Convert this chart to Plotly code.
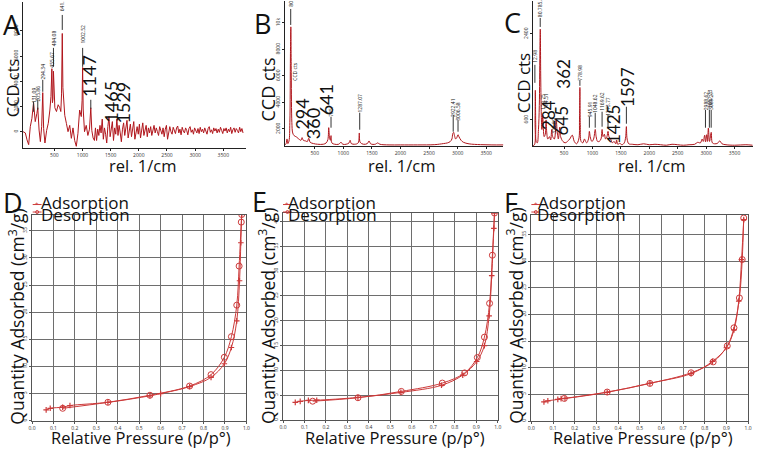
import plotly.graph_objects as go

W, H = 758, 450

# ---------------- DATA ----------------
# Panel A Raman spectrum (rel. 1/cm, CCD cts)
A_wn = [-55, -15, 15, 44, 73, 102, 131, 161, 190, 206, 229, 252, 275, 294, 310, 333, 363, 392, 421, 440,
        456, 466, 475, 484, 500, 509, 538, 568, 597, 615, 628, 641, 652, 661, 685, 714, 743, 773, 802, 831,
        861, 890, 919, 949, 978, 993, 1002, 1012, 1036, 1066, 1095, 1124, 1147, 1165, 1188, 1212, 1230,
        1250, 1270, 1290, 1310, 1330, 1350, 1370, 1390, 1410, 1430, 1450, 1470, 1490, 1510, 1530, 1550,
        1570, 1590, 1610, 1630, 1650, 1670, 1690, 1710, 1730, 1750, 1770, 1790, 1810, 1830, 1850, 1870,
        1890, 1910, 1930, 1950, 1970, 1990, 2010, 2030, 2050, 2070, 2090, 2110, 2130, 2150, 2170, 2190,
        2210, 2230, 2250, 2270, 2290, 2310, 2330, 2350, 2370, 2390, 2410, 2430, 2450, 2470, 2490, 2510,
        2530, 2550, 2570, 2590, 2610, 2630, 2650, 2670, 2690, 2710, 2730, 2750, 2770, 2790, 2810, 2830,
        2850, 2870, 2890, 2910, 2930, 2950, 2970, 2990, 3010, 3030, 3050, 3070, 3090, 3110, 3130, 3150,
        3170, 3190, 3210, 3230, 3250, 3270, 3290, 3310, 3330, 3350, 3370, 3390, 3410, 3430, 3450, 3470,
        3490, 3510, 3530, 3550, 3570, 3590, 3610, 3630, 3650, 3670, 3690, 3710, 3730, 3750, 3770, 3790,
        3810, 3830, 3850]
A_cts = [0, -100, -650, -1030, 400, 1060, 2300, 800, 1450, 1900, 130, -790, 400, 3100, 250, -900, 100, 660, 1720, 2800,
         5000, 2300, 2600, 4800, 2600, 1900, 1600, 2140, 1900, 1600, 3000, 7800, 3500, 2500, 1300, 660, 0, 500, -530, 300,
         -700, -1160, -130, 1720, 1200, 2500, 5100, 1800, 0, 500, -300, 200, 1900, 100, -500, -700, 300,
         -700, 200, -300, 500, -100, 1000, -600, 300, -200, -900, 400, 1200, -400, 100, 800, -700,
         300, -200, 1000, -300, 500, -100, -800, 200, 700, -300, 400, 900, -500, 100, 600, -400,
         200, 800, -600, 100, 400, -200, 600, -500, 300, 700, -300, 200, 500, -400, 300, -100,
         400, -300, 200, 500, -100, 300, 0, -300, 400, 100, -200, 300, -400, 200, 500, -600,
         100, 400, 0, -200, 350, 100, -150, 300, 450, -100, 200, -250, 350, 50, -100, 300,
         100, -250, 250, 400, -50, 150, -200, 300, 100, -100, 250, -150, 350, 0, 200, -100,
         300, 50, -200, 250, 400, -50, 150, -150, 300, 50, 250, -100, 200, -50, 350, 100,
         -150, 250, 50, 300, -100, 200, 0, 350, -150, 150, 300, -50, 250, 100, -100, 350,
         0, 250, -100]

# Panel B Raman spectrum
B_wn = [-20, 0, 15, 30, 50, 65, 75, 82, 90, 100, 115, 140, 180, 220, 260, 279, 300, 340, 370, 395, 420, 480,
        550, 650, 700, 730, 745, 760, 775, 785, 800, 850, 920, 960, 990, 1050, 1100, 1120, 1140, 1200, 1260,
        1280, 1295, 1350, 1420, 1450, 1480, 1560, 1600, 1640, 1800, 2000, 2300, 2600, 2750, 2820, 2870, 2900,
        2915, 2930, 2945, 2965, 2985, 3006, 3025, 3060, 3100, 3200, 3400, 3600, 3800]
B_cts = [800, 900, 1250, 900, 1100, 2500, 7500, 9700, 6000, 2500, 1700, 1500, 1400, 1250, 1150, 1350, 1150, 1100, 1050, 1300, 1000, 900,
         850, 850, 950, 1200, 2100, 1300, 1150, 1500, 950, 850, 850, 1000, 850, 850, 950, 1150, 900, 850, 950,
         1700, 1000, 850, 900, 1100, 880, 850, 950, 850, 800, 800, 800, 820, 900, 950, 1050, 1250,
         1650, 1750, 1500, 1250, 1350, 1570, 1400, 1150, 1000, 880, 820, 800, 800]

# Panel C Raman spectrum
C_wn = [-50, -20, -10, -5, 2, 10, 30, 50, 65, 75, 82, 90, 100, 110, 125, 135, 150, 170, 184, 195, 215, 245, 265,
        284, 300, 330, 362, 380, 400, 425, 440, 480, 520, 560, 600, 645, 680, 720, 760, 772, 779, 786, 800, 830,
        860, 880, 900, 930, 946, 960, 990, 1020, 1049, 1065, 1090, 1120, 1150, 1170, 1185, 1210, 1230, 1255,
        1274, 1290, 1320, 1350, 1380, 1410, 1425, 1445, 1480, 1520, 1560, 1585, 1597, 1610, 1640, 1700, 1800,
        1900, 2000, 2100, 2200, 2300, 2400, 2500, 2600, 2700, 2800, 2850, 2900, 2930, 2950, 2975, 2990, 3010,
        3025, 3040, 3060, 3090, 3110, 3150, 3200, 3240, 3280, 3350, 3500, 3700, 3820]
C_cts = [60, 80, 600, 1220, 500, 150, 120, 400, 900, 2000, 2500, 1500, 700, 400, 700, 450, 250, 300, 600, 350, 200, 250, 180,
         400, 250, 200, 600, 350, 200, 450, 250, 150, 120, 150, 200, 280, 150, 100, 200, 600, 1280, 500, 150, 120,
         200, 150, 120, 200, 360, 250, 150, 200, 400, 250, 150, 150, 200, 400, 250, 300, 200, 250,
         360, 250, 200, 120, 150, 100, 180, 90, 110, 80, 120, 250, 460, 200, 100, 90, 80,
         100, 80, 90, 80, 70, 90, 80, 70, 80, 90, 130, 120, 200, 150, 280, 140, 290,
         150, 430, 150, 340, 120, 100, 110, 160, 100, 80, 70, 80, 70]

# Peak labels
A_small_txt = ["131.09", "205.86", "294.34", "455.67", "484.08", "641.", "1002.52"]
A_small_wn = [131.09, 205.86, 294.34, 455.67, 484.08, 641.0, 1002.52]
A_big_txt = ["1147", "1465", "1529"]
B_small_txt = ["80", "785.", "1287.07", "2922.41", "3006.58"]
B_small_wn = [80, 785, 1287.07, 2922.41, 3006.58]
B_big_txt = ["294", "360", "641"]
C_small_txt = ["80.785,", "12.98", "129.75", "184.51", "325.89", "778.98", "945.91", "1048.62",
               "1169.62", "1273.77", "2988.62", "3057.23", "3089.27"]
C_small_wn = [80.78, -12.98, 129.75, 184.51, 325.89, 778.98, 945.91, 1048.62, 1169.62, 1273.77,
              2988.62, 3057.23, 3089.27]
C_big_txt = ["284", "362", "645", "1425", "1597"]

# BET isotherms (p/p0, cm3/g)
D_ads_x = [0.066, 0.085, 0.143, 0.177, 0.354, 0.55, 0.60, 0.735, 0.835, 0.897, 0.93, 0.955, 0.968, 0.974, 0.978]
D_ads_y = [2.0, 2.3, 2.5, 2.8, 3.4, 4.6, 5.0, 6.3, 8.0, 10.5, 13.5, 18.4, 25.8, 32.8, 38.0]
D_des_x = [0.978, 0.976, 0.966, 0.955, 0.93, 0.897, 0.835, 0.735, 0.55, 0.354, 0.143]
D_des_y = [38.0, 36.6, 28.5, 21.3, 15.5, 11.7, 8.5, 6.4, 4.7, 3.4, 2.3]
E_ads_x = [0.057, 0.08, 0.118, 0.157, 0.349, 0.549, 0.738, 0.837, 0.902, 0.938, 0.96, 0.972, 0.982, 0.985]
E_ads_y = [3.56, 3.76, 3.96, 4.0, 4.56, 5.57, 7.0, 9.06, 11.8, 15.0, 21.0, 29.1, 38.6, 41.7]
E_des_x = [0.985, 0.975, 0.962, 0.938, 0.905, 0.846, 0.742, 0.551, 0.349, 0.138]
E_des_y = [41.7, 33.2, 23.5, 16.7, 12.6, 9.5, 7.45, 5.77, 4.5, 3.8]
F_ads_x = [0.058, 0.076, 0.122, 0.137, 0.155, 0.35, 0.547, 0.737, 0.836, 0.9, 0.935, 0.957, 0.97, 0.98]
F_ads_y = [3.6, 3.8, 4.06, 4.2, 4.25, 5.4, 7.1, 8.9, 11.2, 13.75, 17.1, 22.5, 30.3, 37.8]
F_des_x = [0.98, 0.973, 0.96, 0.935, 0.904, 0.839, 0.737, 0.547, 0.35, 0.152]
F_des_y = [38.1, 30.3, 23.1, 17.5, 14.1, 11.1, 9.06, 7.06, 5.44, 4.25]

bet_xticks = [0.0, 0.1, 0.2, 0.3, 0.4, 0.5, 0.6, 0.7, 0.8, 0.9, 1.0]
top_xt = [500, 1000, 1500, 2000, 2500, 3000, 3500]

# ---------------- LAYOUT HELPERS ----------------
def px(x):
    return x / W

def py(y):
    return 1 - y / H

SPEC = "#b0161c"
BET = "#cc3a3a"
FONT = "Open Sans"
NUMF = "Lato"

fig = go.Figure()

fig.add_trace(go.Scatter(x=A_wn, y=A_cts, mode="lines", line=dict(color=SPEC, width=1), xaxis="x", yaxis="y"))
fig.add_trace(go.Scatter(x=B_wn, y=B_cts, mode="lines", line=dict(color=SPEC, width=1, shape="spline"), xaxis="x2", yaxis="y2"))
fig.add_trace(go.Scatter(x=C_wn, y=C_cts, mode="lines", line=dict(color=SPEC, width=1, shape="spline"), xaxis="x3", yaxis="y3"))

for i, (ax, ay, dx, dy) in enumerate([(D_ads_x, D_ads_y, D_des_x, D_des_y),
                                      (E_ads_x, E_ads_y, E_des_x, E_des_y),
                                      (F_ads_x, F_ads_y, F_des_x, F_des_y)]):
    xa, ya = "x%d" % (i + 4), "y%d" % (i + 4)
    fig.add_trace(go.Scatter(x=ax, y=ay, mode="lines+markers", line=dict(color=BET, width=1, shape="spline"),
                             marker=dict(symbol="cross-thin", size=4, line=dict(color=BET, width=1.2)),
                             xaxis=xa, yaxis=ya))
    fig.add_trace(go.Scatter(x=dx, y=dy, mode="lines+markers", line=dict(color=BET, width=1, shape="spline"),
                             marker=dict(symbol="circle-open", size=6, color=BET, line=dict(width=1)),
                             xaxis=xa, yaxis=ya))

top_axis = dict(showgrid=False, zeroline=False, showline=True, linecolor="#222", linewidth=1,
                ticks="outside", ticklen=2, tickcolor="#222", tickfont=dict(size=5, color="#333", family=FONT))
bot_x = dict(showgrid=True, gridcolor="#6e6e6e", gridwidth=1, zeroline=False, showline=True, mirror=True,
             linecolor="#555", linewidth=1, ticks="outside", ticklen=2, tickcolor="#555",
             tickfont=dict(size=5, color="#333", family=FONT), range=[0, 1], tickvals=bet_xticks,
             ticktext=["%.1f" % v for v in bet_xticks])
bot_y = dict(showgrid=True, gridcolor="#6e6e6e", gridwidth=1, zeroline=False, showline=True, mirror=True,
             linecolor="#555", linewidth=1, ticks="outside", ticklen=2, tickcolor="#555", dtick=5,
             tickangle=-90, tickfont=dict(size=5, color="#333", family=FONT))

layout = dict(
    width=W, height=H, margin=dict(l=0, r=0, t=0, b=0), paper_bgcolor="white", plot_bgcolor="white",
    showlegend=False, font=dict(family=FONT, color="#111"),
    xaxis=dict(top_axis, domain=[px(19), px(245)], range=[-60, 3910], anchor="y", tickvals=top_xt),
    yaxis=dict(top_axis, domain=[py(148), py(2)], range=[-1270, 10300], anchor="x",
               tickvals=[0, 2000, 4000, 6000, 8000], tickangle=-90),
    xaxis2=dict(top_axis, domain=[px(283.7), px(504.7)], range=[-25, 3800], anchor="y2", tickvals=top_xt),
    yaxis2=dict(top_axis, domain=[py(146.7), py(1)], range=[690, 11650], anchor="x2",
                tickvals=[2000, 4000, 6000, 8000, 10000], tickangle=-90),
    xaxis3=dict(top_axis, domain=[px(534.3), px(756.7)], range=[-52, 3820], anchor="y3", tickvals=top_xt),
    yaxis3=dict(top_axis, domain=[py(146.7), py(1)], range=[46, 3090], anchor="x3",
                tickvals=[600, 2400], tickangle=-90),
    xaxis4=dict(bot_x, domain=[px(28.3), px(245)], anchor="y4"),
    yaxis4=dict(bot_y, domain=[py(421.7), py(215)], range=[0, 38], anchor="x4"),
    xaxis5=dict(bot_x, domain=[px(282), px(499)], anchor="y5"),
    yaxis5=dict(bot_y, domain=[py(421), py(213)], range=[0, 41.8], anchor="x5"),
    xaxis6=dict(bot_x, domain=[px(533), px(752)], anchor="y6"),
    yaxis6=dict(bot_y, domain=[py(422), py(215)], range=[0, 38.75], anchor="x6"),
)
fig.update_layout(**layout)

ann = []
shapes = []

def text(x, y, s, size, angle=0, family=FONT, color="#111", xref="paper"):
    ann.append(dict(x=x if xref != "paper" else px(x), y=py(y), xref=xref, yref="paper", text=s,
                    showarrow=False, textangle=angle, font=dict(size=size, family=family, color=color),
                    xanchor="center", yanchor="middle"))

def vline(xd, y0, y1, xref, color="#333"):
    shapes.append(dict(type="line", xref=xref, yref="paper", x0=xd, x1=xd, y0=py(y0), y1=py(y1),
                       line=dict(color=color, width=1)))

# panel letters
for s, x, y in [("A", 8, 25), ("B", 261, 24), ("C", 514, 23), ("D", 9, 203), ("E", 258, 202), ("F", 512, 203)]:
    text(x, y, s, 27)

# top axis titles
for x in [140, 402, 654]:
    text(x, 166, "rel. 1/cm", 16.5)
text(8.5, 88, "CCD cts", 16.5, -90)
text(266.5, 90, "CCD cts", 18, -90)
text(525, 83, "CCD cts", 17, -90)
text(294, 72, "CCD cts", 5, -90)

# bottom axis titles
for x in [138.5, 395.5, 645.7]:
    text(x, 438.5, "Relative Pressure (p/p°)", 16.5)
for x in [12.5, 265.5, 516]:
    text(x, 317, "Quantity Adsorbed (cm<sup>3</sup>/g)", 17.5, -90)

# legends (text)
for x in [82, 332, 584]:
    text(x, 203, "Adsorption", 17)
    text(x, 215, "Desorption", 17)

# legend glyphs
for x0 in [29, 282, 533]:
    shapes.append(dict(type="line", xref="paper", yref="paper", x0=px(x0), x1=px(x0 + 9), y0=py(205), y1=py(205),
                       line=dict(color=BET, width=1)))
    shapes.append(dict(type="line", xref="paper", yref="paper", x0=px(x0), x1=px(x0 + 9), y0=py(212.5), y1=py(212.5),
                       line=dict(color=BET, width=1)))
    shapes.append(dict(type="circle", xref="paper", yref="paper", x0=px(x0 + 3), x1=px(x0 + 6),
                       y0=py(214), y1=py(211), line=dict(color=BET, width=1)))
    text(x0 + 4.5, 204.8, "+", 6, color=BET)

# A peak labels
A_text_y = [96, 94, 72, 60, 38, 6, 34]
A_lines = [(102, 112), (100, 110), (80, 92), None, (48, 67), (15, 30), (48, 67)]
for s, wn, ty, ln in zip(A_small_txt, A_small_wn, A_text_y, A_lines):
    text(wn, ty, s, 5, -90, xref="x")
    if ln:
        vline(wn, ln[0], ln[1], "x")
vline(1147, 100, 109, "x")
for s, (x, y) in zip(A_big_txt, [(86, 76), (108, 102), (120, 103)]):
    text(x, y, s, 18, -90, family=NUMF)

# B peak labels
B_text_y = [4, 112, 103, 108, 112]
B_lines = [(9, 25), (117, 128), (113, 130), (115, 132), (120, 132)]
for s, wn, ty, ln in zip(B_small_txt, B_small_wn, B_text_y, B_lines):
    text(wn, ty, s, 5, -90, xref="x2")
    vline(wn, ln[0], ln[1], "x2")
for s, (x, y) in zip(B_big_txt, [(301, 114), (311.7, 124), (325, 100)]):
    text(x, y, s, 18, -90, family=NUMF)

# C peak labels
C_text_y = [9, 56, 102, 101, 126, 73, 109, 104, 102, 107, 101, 99, 101]
C_lines = [(18, 27), (65, 83), None, None, None, (80, 86), (117, 128), (113, 128), (112, 127), (115, 128),
           (110, 128), (110, 128), (110, 128)]
for s, wn, ty, ln in zip(C_small_txt, C_small_wn, C_text_y, C_lines):
    text(wn, ty, s, 5, -90, xref="x3")
    if ln:
        vline(wn, ln[0], ln[1], "x3")
vline(1597, 107, 124, "x3")
for s, (x, y) in zip(C_big_txt, [(551, 115), (565.8, 74), (563.8, 121), (615.8, 125), (630.8, 87)]):
    text(x, y, s, 17, -90, family=NUMF)

fig.update_layout(annotations=ann, shapes=shapes)
fig.write_html("out.html", config={"displayModeBar": False},
               post_script="document.body.style.margin='0px';document.documentElement.style.overflow='hidden';")
